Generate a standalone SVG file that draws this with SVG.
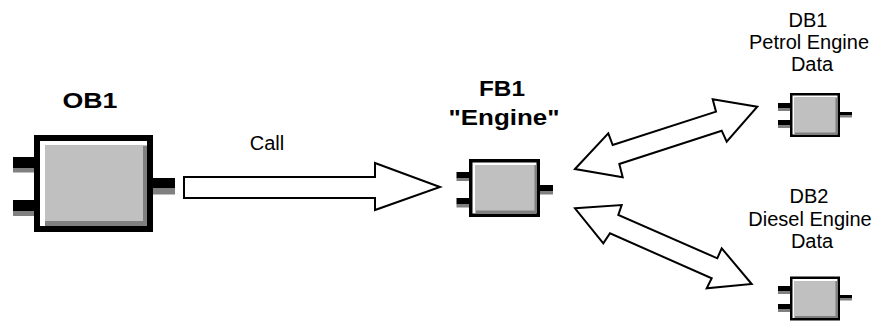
<svg xmlns="http://www.w3.org/2000/svg" width="878" height="322" viewBox="0 0 878 322">
<style>
.bk{fill:#000}
.wh{fill:#fff}
.sh{fill:#808080}
.lg{fill:#c0c0c0}
.arr{fill:#fff;stroke:#000;stroke-width:2;stroke-linejoin:miter}
.t{font-family:"Liberation Sans",Arial,sans-serif;font-size:20px;fill:#000;text-anchor:middle}
.b{font-family:"Liberation Sans",Arial,sans-serif;font-size:22px;font-weight:bold;fill:#000;text-anchor:middle}
</style>
<rect x="0" y="0" width="878" height="322" fill="#fff"/>
<g id="connectors">
<g id="call">
<polygon class="arr" points="184,177 375,177 375,163 440,187 375,210 375,198 184,198"/>
<text class="t" x="267" y="150">Call</text>
</g>
<polygon id="fb1-db1" class="arr" points="575,169 608.3,133.3 612.7,145 716,111.7 712.7,99.3 757.3,106.7 726.7,141.7 721.7,130.7 619.3,164 622.7,177.3"/>
<polygon id="fb1-db2" class="arr" points="575,208.3 621.7,205 618.3,215 717.3,258.3 721.7,248.3 751.7,284 706.7,288.3 711.7,278.3 610,233.3 603.3,243.3"/>
</g>
<g id="OB1">
<rect class="bk" x="13" y="157" width="21" height="11"/>
<rect class="sh" x="13" y="168" width="21" height="4.5"/>
<rect class="bk" x="13" y="200" width="21" height="11.5"/>
<rect class="sh" x="13" y="211.5" width="21" height="4.5"/>
<rect class="bk" x="152" y="178" width="23" height="10.5"/>
<rect class="sh" x="152" y="188.5" width="23" height="6"/>
<rect class="bk" x="34" y="135" width="119" height="97"/>
<rect class="wh" x="40" y="141" width="107" height="85"/>
<rect class="sh" x="45" y="145.5" width="102" height="80.5"/>
<rect class="lg" x="45" y="145.5" width="98" height="75.5"/>
<text class="b" x="90" y="107.5" textLength="55" lengthAdjust="spacingAndGlyphs">OB1</text>
</g>
<g id="FB1">
<rect class="bk" x="456.5" y="172" width="13" height="6.5"/>
<rect class="sh" x="456.5" y="178.5" width="13" height="2.5"/>
<rect class="bk" x="456.5" y="198" width="13" height="6.5"/>
<rect class="sh" x="456.5" y="204.5" width="13" height="3"/>
<rect class="bk" x="539" y="185" width="14" height="6"/>
<rect class="sh" x="539" y="191" width="14" height="3.5"/>
<rect class="bk" x="469" y="159" width="71" height="58"/>
<rect class="wh" x="472.5" y="162.5" width="64" height="51"/>
<rect class="sh" x="475.5" y="165" width="61" height="48.5"/>
<rect class="lg" x="475.5" y="165" width="59" height="45.5"/>
<text class="b" x="502" y="95.5" textLength="46" lengthAdjust="spacingAndGlyphs">FB1</text>
<text class="b" x="504" y="124.5" textLength="111" lengthAdjust="spacingAndGlyphs">"Engine"</text>
</g>
<g id="DB1">
<rect class="bk" x="778" y="103" width="12" height="5"/>
<rect class="sh" x="778" y="108" width="12" height="3"/>
<rect class="bk" x="778" y="120" width="12" height="5"/>
<rect class="sh" x="778" y="125" width="12" height="3"/>
<rect class="bk" x="839" y="112" width="13" height="3"/>
<rect class="sh" x="839" y="115" width="13" height="2.5"/>
<rect class="bk" x="790" y="93" width="50" height="44"/>
<rect class="wh" x="792.5" y="95.5" width="45" height="39"/>
<rect class="sh" x="794.5" y="97.5" width="43" height="37"/>
<rect class="lg" x="794.5" y="97.5" width="41" height="35"/>
<text class="t" x="808" y="27">DB1</text>
<text class="t" x="809" y="48.5">Petrol Engine</text>
<text class="t" x="812" y="70.5">Data</text>
</g>
<g id="DB2">
<rect class="bk" x="778" y="286" width="12" height="5"/>
<rect class="sh" x="778" y="291" width="12" height="3"/>
<rect class="bk" x="778" y="304" width="12" height="5"/>
<rect class="sh" x="778" y="309" width="12" height="3"/>
<rect class="bk" x="839" y="295" width="13" height="3"/>
<rect class="sh" x="839" y="298" width="13" height="2.5"/>
<rect class="bk" x="790" y="276.5" width="50" height="44"/>
<rect class="wh" x="792.5" y="279" width="45" height="39"/>
<rect class="sh" x="794.5" y="281" width="43" height="37"/>
<rect class="lg" x="794.5" y="281" width="41" height="35"/>
<text class="t" x="809" y="203">DB2</text>
<text class="t" x="810" y="226">Diesel Engine</text>
<text class="t" x="812" y="248">Data</text>
</g>
</svg>
